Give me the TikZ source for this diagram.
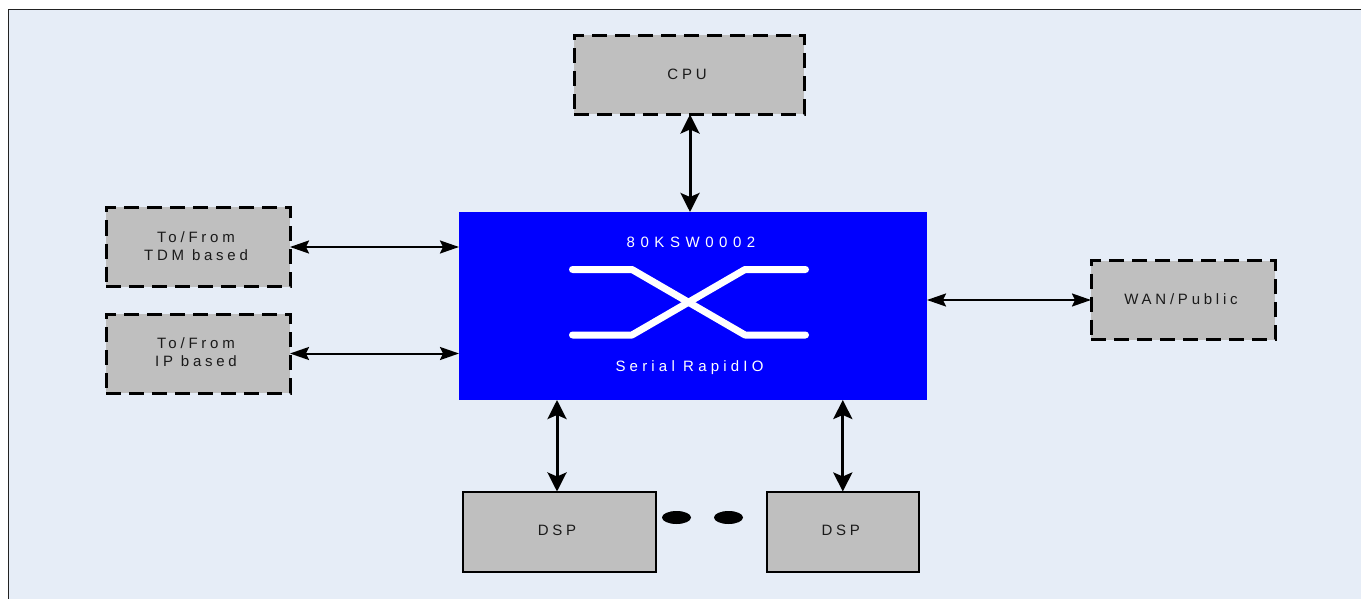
\documentclass[tikz,border=0pt]{standalone}
\usepackage{fontspec}
\setmainfont{Liberation Sans}
\newfontfamily\spaced[LetterSpace=25]{Liberation Sans}
\newfontfamily\busfont[LetterSpace=28]{Liberation Sans}
\newfontfamily\wider[LetterSpace=37]{Liberation Sans}
\usetikzlibrary{arrows.meta,shapes.geometric}
\definecolor{pagebg}{HTML}{E6EDF7}
\definecolor{boxgray}{HTML}{BFBFBF}
\definecolor{frameline}{HTML}{222222}
\definecolor{boxtext}{HTML}{1A1A1A}
\newcommand{\tline}[1]{\raisebox{1pt}[\height][\depth]{#1\kern4pt}}
\tikzset{
  x=1pt,y=-1pt,
  graybox/.style={rectangle,fill=boxgray,text=boxtext,align=center,inner sep=0pt,outer sep=0pt,
    font=\fontsize{15}{18}\selectfont\spaced},
  dashbox/.style={graybox,draw=black,line width=3pt,dash pattern=on 15pt off 8pt,
    minimum width=184pt,minimum height=79pt},
  solidbox/.style={graybox,draw=black,line width=2pt,minimum height=80pt},
  switchbox/.style={rectangle,fill=blue,inner sep=0pt,outer sep=0pt,minimum width=468pt,minimum height=188pt},
  switchtext/.style={text=white,inner sep=0pt},
  xline/.style={draw=white,line width=7pt,line cap=round,line join=round},
  hlink/.style={draw=black,line width=2pt,{Stealth[length=19pt,width=13pt,inset=3pt]}-{Stealth[length=19pt,width=13pt,inset=3pt]}},
  vlink/.style={draw=black,line width=3pt,{Stealth[length=19pt,width=19pt,inset=4pt]}-{Stealth[length=19pt,width=19pt,inset=4pt]}},
  dot/.style={ellipse,fill=black,inner sep=0pt,minimum width=29pt,minimum height=13pt},
}
\begin{document}
\begin{tikzpicture}
\useasboundingbox (0,0) rectangle (1361,599);
\fill[white] (0,0) rectangle (1361,599);
\fill[pagebg] (8.5,9.5) rectangle (1361,599);
\draw[frameline,line width=1pt] (8.5,599) -- (8.5,9.5) -- (1361,9.5);
\node[switchbox] (sw) at (693,306) {};
\node[switchtext,font=\fontsize{15}{18}\selectfont\wider] (swname) at (691,242.5) {80KSW0002};
\node[switchtext,font=\fontsize{15}{18}\selectfont\busfont] (swbus) at (689.5,368) {Serial RapidIO};
\draw[xline] (572.5,269.5) -- (632,269.5) -- (745,335) -- (805.5,335);
\draw[xline] (572.5,335) -- (632,335) -- (745,269.5) -- (805.5,269.5);
\node[dashbox,minimum width=230pt] (cpu) at (689,75) {\tline{CPU}};
\node[dashbox] (tdm) at (198,247) {\tline{To/From}\\\tline{TDM based}};
\node[dashbox] (ip) at (198,353.5) {\tline{To/From}\\\tline{IP based}};
\node[dashbox] (wan) at (1183,300) {\tline{WAN/Public}};
\node[solidbox,minimum width=193pt] (dspa) at (559,531.5) {\tline{DSP}};
\node[solidbox,minimum width=152pt] (dspb) at (842.8,531.5) {\tline{DSP}};
\node[dot] (dota) at (676.5,517.5) {};
\node[dot] (dotb) at (728.5,517.5) {};
\draw[vlink] ([xshift=1pt]cpu.south) -- ([xshift=1pt]cpu.south |- sw.north);
\draw[hlink] (tdm.east) -- (tdm.east -| sw.west);
\draw[hlink] (ip.east) -- (ip.east -| sw.west);
\draw[hlink] (wan.west) -- (wan.west -| sw.east);
\draw[vlink] ([xshift=-2pt]dspa.north) -- ([xshift=-2pt]dspa.north |- sw.south);
\draw[vlink] (dspb.north) -- (dspb.north |- sw.south);
\end{tikzpicture}
\end{document}
